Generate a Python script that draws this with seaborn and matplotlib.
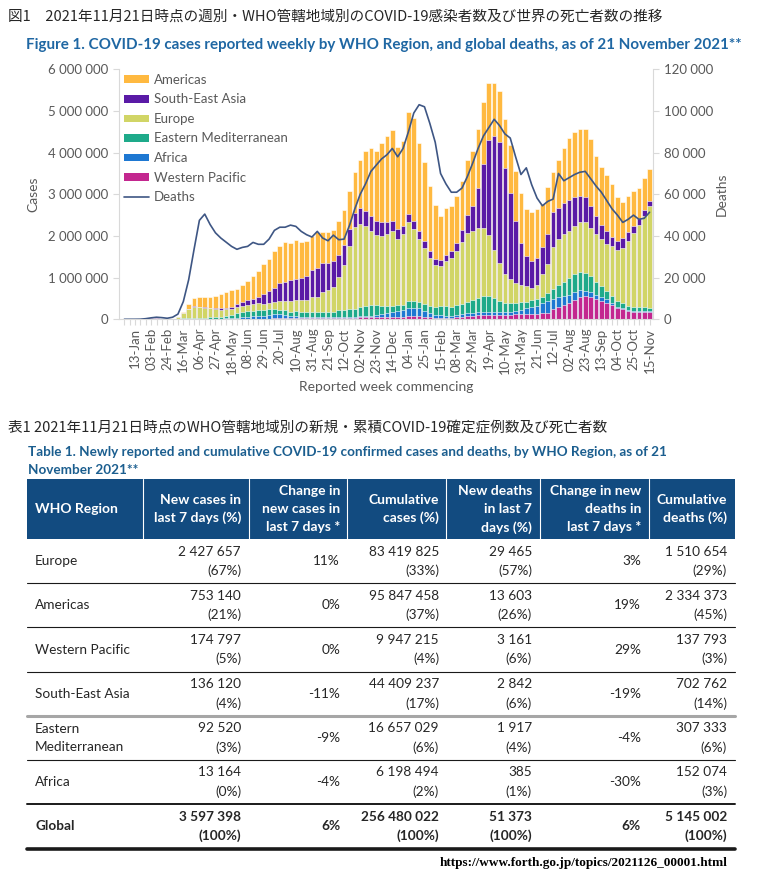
import numpy as np
import pandas as pd
import matplotlib
matplotlib.use("Agg")
import matplotlib.pyplot as plt
from matplotlib.patches import Patch, Rectangle
from matplotlib.lines import Line2D
from matplotlib.ticker import FuncFormatter
import seaborn as sns

W, H = 763, 877

# weekly new cases by WHO region (thousands), weeks commencing 30-Dec-2019 .. 15-Nov-2021
western_pacific = [
    0, 0, 0.3, 2, 12, 22, 30, 8, 4, 4,
    8, 10, 12, 12, 11, 9, 7, 7, 6, 6, 7,
    8, 8, 9, 9, 10, 10, 15, 20, 25, 30,
    35, 35, 30, 28, 25, 25, 25, 25, 25, 25, 25, 25, 25,
    50, 50, 50, 50, 50, 50, 50, 60, 60, 80, 80, 80, 60,
    50, 40, 40, 40, 40, 60, 60, 70,
    90, 100, 100, 100, 100, 100, 100, 100, 120, 130, 130, 130, 130, 140, 160, 240,
    300, 340, 380, 470, 540, 560, 530, 490, 450, 400, 340, 260, 240, 210, 180, 180, 175, 175,
]
africa = [
    0, 0, 0, 0, 0, 0, 0, 0, 0, 0,
    0.2, 1, 3, 5, 6, 7, 8, 10, 13, 17, 24,
    35, 45, 50, 65, 70, 75, 85, 100, 95, 70,
    50, 40, 35, 32, 30, 28, 28, 28, 28, 30, 30, 32, 35,
    40, 40, 40, 50, 70, 90, 120, 150, 160, 190, 180, 180, 150,
    100, 75, 60, 50, 50, 50, 60, 70,
    70, 70, 80, 80, 80, 80, 70, 80, 80, 90, 130, 160, 200, 240, 280, 250,
    230, 210, 200, 180, 160, 130, 120, 100, 90, 80, 60, 40, 25, 18, 16, 15, 14, 13,
]
eastern_med = [
    0, 0, 0, 0, 0, 0, 0, 0, 0.5, 5,
    8, 13, 20, 22, 24, 26, 30, 38, 46, 58, 78,
    120, 125, 140, 130, 135, 135, 140, 120, 100, 120,
    100, 120, 115, 120, 120, 120, 125, 130, 130, 160, 170, 190, 190,
    200, 230, 250, 240, 200, 180, 150, 130, 120, 180, 190, 160, 160,
    160, 190, 210, 220, 210, 240, 250, 280,
    300, 350, 380, 370, 320, 270, 230, 200, 180, 190, 160, 170, 160, 160, 190, 240,
    290, 350, 420, 440, 440, 430, 380, 300, 250, 210, 150, 140, 120, 100, 100, 100, 102, 93,
]
europe = [
    0, 0, 0, 0, 0, 0.1, 0.1, 0.2, 1, 8,
    38, 118, 220, 265, 245, 235, 215, 190, 170, 155, 140,
    130, 140, 140, 165, 175, 150, 160, 180, 220, 220,
    260, 260, 290, 290, 350, 370, 470, 510, 590, 790, 1090, 1510, 1960,
    2000, 1910, 1780, 1690, 1690, 1720, 1810, 1590, 1710, 1880, 1720, 1510, 1340,
    1170, 990, 980, 1090, 1170, 1290, 1490, 1650,
    1670, 1670, 1630, 1480, 1170, 910, 690, 590, 500, 420, 370, 290, 330, 550, 700, 1000,
    1100, 1140, 1120, 1140, 1190, 1220, 1170, 1150, 1140, 1120, 1200, 1230, 1330, 1560, 1780, 1980, 2190, 2428,
]
south_east_asia = [
    0, 0, 0, 0, 0, 0, 0, 0, 0, 0.1,
    0.3, 1, 3, 5, 8, 10, 13, 18, 28, 42, 56,
    75, 100, 120, 125, 150, 240, 270, 330, 430, 450,
    490, 520, 530, 570, 670, 690, 710, 660, 620, 550, 460, 400, 330,
    380, 360, 350, 340, 320, 290, 240, 240, 200, 200, 200, 180, 180,
    160, 160, 140, 140, 160, 200, 280, 440,
    580, 960, 1540, 2270, 2730, 2890, 2540, 2050, 1490, 1010, 720, 650, 640, 640, 720, 840,
    740, 760, 740, 710, 630, 600, 530, 440, 340, 310, 220, 210, 240, 200, 170, 150, 153, 136,
]
americas = [
    0, 0, 0, 0, 0, 0, 0, 0, 0.1, 0.5,
    4, 27, 102, 191, 246, 253, 267, 297, 337, 382, 395,
    350, 410, 450, 540, 610, 710, 780, 880, 900, 960,
    900, 930, 860, 850, 800, 860, 740, 740, 760, 800, 840, 915, 1000,
    1150, 1460, 1630, 1680, 1890, 2070, 2170, 1970, 2030, 2440, 2470, 2130, 1880,
    1560, 1290, 1060, 1120, 1100, 1120, 1190, 1310,
    1340, 1410, 1490, 1380, 1280, 1230, 1180, 1170, 1180, 1190, 1140, 1170, 1180, 1040, 1120, 960,
    1160, 1310, 1480, 1550, 1610, 1630, 1600, 1450, 1390, 1350, 1270, 1050, 855, 880, 824, 725, 753, 753,
]
# global deaths per week (thousands)
deaths = [
    0, 0, 0.01, 0.05, 0.3, 0.7, 1.0, 0.8, 0.5, 1.0,
    2.5, 8.5, 19, 33.5, 47.5, 50.5, 45.5, 41.5, 39, 37, 35,
    33.6, 34.5, 35, 36.9, 36, 36, 38.5, 42.7, 44.2, 44.2,
    45.2, 44.6, 42.2, 40.6, 39.5, 42.2, 39, 37.7, 40.4, 38.2, 38.5, 45, 53,
    60, 65, 71, 74, 77, 79, 82, 78, 82, 90, 99, 103, 102,
    94, 85, 70, 65, 61, 61, 63, 68.5,
    75, 82, 88, 92, 96, 93, 89, 87, 78, 69.5, 72.7, 64.6, 58.2, 54.5, 56.6, 57.7,
    70, 66.5, 68, 69.5, 70.6, 71, 67.5, 64, 61, 57, 53, 50, 46.5, 48, 50, 48, 48.5, 51.4,
]

tick_labels = ["13-Jan", "03-Feb", "24-Feb", "16-Mar", "06-Apr", "27-Apr", "18-May",
               "08-Jun", "29-Jun", "20-Jul", "10-Aug", "31-Aug", "21-Sep", "12-Oct",
               "02-Nov", "23-Nov", "14-Dec", "04-Jan", "25-Jan", "15-Feb", "08-Mar",
               "29-Mar", "19-Apr", "10-May", "31-May", "21-Jun", "12-Jul", "02-Aug",
               "23-Aug", "13-Sep", "04-Oct", "25-Oct", "15-Nov"]

# table 1
t_regions = ["Europe", "Americas", "Western Pacific", "South-East Asia",
             "Eastern\nMediterranean", "Africa", "Global"]
t_new_cases = [2427657, 753140, 174797, 136120, 92520, 13164, 3597398]
t_new_cases_pct = [67, 21, 5, 4, 3, 0, 100]
t_change_cases = [11, 0, 0, -11, -9, -4, 6]
t_cum_cases = [83419825, 95847458, 9947215, 44409237, 16657029, 6198494, 256480022]
t_cum_cases_pct = [33, 37, 4, 17, 6, 2, 100]
t_new_deaths = [29465, 13603, 3161, 2842, 1917, 385, 51373]
t_new_deaths_pct = [57, 26, 6, 6, 4, 1, 100]
t_change_deaths = [3, 19, 29, -19, -4, -30, 6]
t_cum_deaths = [1510654, 2334373, 137793, 702762, 307333, 152074, 5145002]
t_cum_deaths_pct = [29, 45, 3, 14, 6, 3, 100]
t_headers = ["WHO Region", "New cases in\nlast 7 days (%)", "Change in\nnew cases in\nlast 7 days *",
             "Cumulative\ncases (%)", "New deaths\nin last 7\ndays (%)",
             "Change in new\ndeaths in\nlast 7 days *", "Cumulative\ndeaths (%)"]

COLORS = {
    "Americas": "#FFB940",
    "South-East Asia": "#5A1AA6",
    "Europe": "#D1D566",
    "Eastern Mediterranean": "#1EAA8A",
    "Africa": "#1E78D2",
    "Western Pacific": "#C3278F",
}
DEATH_COLOR = "#3E5684"
GREY_TXT = "#595959"
AXIS_GREY = "#D9D9D9"
TITLE_BLUE = "#1F67A3"
HEAD_BLUE = "#124B80"

sns.set_theme(style="white")
plt.rcParams["font.family"] = ["Lato", "Noto Sans CJK JP", "DejaVu Sans"]

df = pd.DataFrame({
    "Western Pacific": western_pacific,
    "Africa": africa,
    "Eastern Mediterranean": eastern_med,
    "Europe": europe,
    "South-East Asia": south_east_asia,
    "Americas": americas,
}) * 1000
stack_order = list(df.columns)
cum = df[stack_order].cumsum(axis=1)
weeks = np.arange(len(df))

fig = plt.figure(figsize=(W / 100, H / 100), dpi=100)

# page layer in pixel coordinates for titles and the table
page = fig.add_axes([0, 0, 1, 1])
page.set_xlim(0, W)
page.set_ylim(H, 0)
page.axis("off")

jp = ["Noto Sans CJK JP", "DejaVu Sans"]
page.text(8, 17, "図1　2021年11月21日時点の週別・WHO管轄地域別のCOVID-19感染者数及び世界の死亡者数の推移",
          family=jp, fontsize=10.5, color="#262626", ha="left", va="center")
page.text(384, 45.5, "Figure 1. COVID-19 cases reported weekly by WHO Region, and global deaths, as of 21 November 2021**",
          fontsize=10.9, fontweight="bold", color=TITLE_BLUE, ha="center", va="center")

# ---- chart ----
ax = fig.add_axes([119 / W, 1 - 319.3 / H, 533.8 / W, 250 / H])
ax.set_facecolor("none")
for region in reversed(stack_order):
    sns.barplot(x=weeks, y=cum[region].values, color=COLORS[region], saturation=1,
                width=0.86, edgecolor="white", linewidth=0.4, ax=ax)

ax.set_xlim(-1.0, 98.6)
ax.set_ylim(0, 6_000_000)
ax.set_yticks(np.arange(0, 6_000_001, 1_000_000))
ax.yaxis.set_major_formatter(FuncFormatter(lambda v, p: f"{int(v):,}".replace(",", " ")))
labels = [""] * len(weeks)
for k, lab in enumerate(tick_labels):
    labels[2 + 3 * k] = lab
ax.set_xticks(weeks)
ax.set_xticklabels(labels, rotation=90)
ax.tick_params(axis="x", bottom=True, length=4, width=0.8, color=AXIS_GREY,
               labelsize=9.5, labelcolor=GREY_TXT, pad=2)
ax.tick_params(axis="y", left=True, length=4, width=0.8, color=AXIS_GREY,
               labelsize=9.5, labelcolor=GREY_TXT, pad=4)
for s in ["top", "right"]:
    ax.spines[s].set_visible(False)
for s in ["left", "bottom"]:
    ax.spines[s].set_color(AXIS_GREY)
    ax.spines[s].set_linewidth(0.8)
ax.set_xlabel("Reported week commencing", fontsize=10, color=GREY_TXT, labelpad=5)
ax.set_ylabel("Cases", fontsize=10, color=GREY_TXT, labelpad=6)

ax2 = ax.twinx()
sns.lineplot(x=weeks, y=np.array(deaths) * 1000, color=DEATH_COLOR, linewidth=1.2, ax=ax2)
ax2.set_ylim(0, 120_000)
ax2.set_yticks(np.arange(0, 120_001, 20_000))
ax2.yaxis.set_major_formatter(FuncFormatter(lambda v, p: f"{int(v):,}".replace(",", " ")))
ax2.tick_params(axis="y", right=True, length=4, width=0.8, color=AXIS_GREY,
                labelsize=9.5, labelcolor=GREY_TXT, pad=4)
for s in ["top", "left", "bottom"]:
    ax2.spines[s].set_visible(False)
ax2.spines["right"].set_color(AXIS_GREY)
ax2.spines["right"].set_linewidth(0.8)
ax2.set_ylabel("Deaths", fontsize=10, color=GREY_TXT, labelpad=2)

legend_order = ["Americas", "South-East Asia", "Europe", "Eastern Mediterranean", "Africa", "Western Pacific"]
handles = [Patch(facecolor=COLORS[r], edgecolor="none", label=r) for r in legend_order]
handles.append(Line2D([], [], color=DEATH_COLOR, lw=1.2, label="Deaths"))
ax2.legend(handles=handles, loc="upper left", bbox_to_anchor=(0.0, 1.0), frameon=False,
           fontsize=9.5, labelcolor=GREY_TXT, handlelength=1.95, handleheight=0.5,
           handletextpad=0.35, labelspacing=0.57, borderaxespad=0.3, borderpad=0.05)

# ---- table ----
page.text(8, 428, "表1 2021年11月21日時点のWHO管轄地域別の新規・累積COVID-19確定症例数及び死亡者数",
          family=jp, fontsize=10.5, color="#262626", ha="left", va="center")
page.text(28, 452, "Table 1. Newly reported and cumulative COVID-19 confirmed cases and deaths, by WHO Region, as of 21",
          fontsize=9.75, fontweight="bold", color="#1B5E8F", ha="left", va="center")
page.text(28, 470, "November 2021**", fontsize=9.75, fontweight="bold", color="#1B5E8F",
          ha="left", va="center")

col_edges = [27, 143, 249, 347, 446, 540, 649, 735]
row_edges = [479, 539, 583, 627, 672, 716, 760, 804, 849]
text_right = [35, 241, 340, 439, 532, 641, 727]


def put_lines(x, yc, lines, ha, step, **kw):
    n = len(lines)
    for k, s in enumerate(lines):
        page.text(x, yc + (k - (n - 1) / 2) * step, s, ha=ha, va="center", **kw)


def fmt(n):
    return f"{n:,}".replace(",", " ")


page.add_patch(Rectangle((col_edges[0], row_edges[0]), col_edges[-1] - col_edges[0],
                         row_edges[1] - row_edges[0], facecolor=HEAD_BLUE, edgecolor="none"))
for x in col_edges[1:-1]:
    page.plot([x, x], [row_edges[0], row_edges[1]], color="white", lw=0.8)
head_yc = (row_edges[0] + row_edges[1]) / 2
for c, head in enumerate(t_headers):
    put_lines(text_right[c], head_yc, head.split("\n"), "left" if c == 0 else "right", 18.3,
              fontsize=10, fontweight="bold", color="white")

for r, region in enumerate(t_regions):
    top, bot = row_edges[r + 1], row_edges[r + 2]
    yc = (top + bot) / 2
    kw = dict(fontsize=9.8, color="#262626", fontweight="bold" if region == "Global" else "normal")
    put_lines(text_right[0], yc, region.split("\n"), "left", 18, **kw)
    pairs = [(t_new_cases, t_new_cases_pct), (t_cum_cases, t_cum_cases_pct),
             (t_new_deaths, t_new_deaths_pct), (t_cum_deaths, t_cum_deaths_pct)]
    for c, (vals, pcts) in zip([1, 3, 4, 6], pairs):
        put_lines(text_right[c], yc, [fmt(vals[r]), f"({pcts[r]}%)"], "right", 19, **kw)
    page.text(text_right[2], yc, f"{t_change_cases[r]}%", ha="right", va="center", **kw)
    page.text(text_right[5], yc, f"{t_change_deaths[r]}%", ha="right", va="center", **kw)

for y in [583, 627, 672, 760]:
    page.plot([col_edges[0], col_edges[-1]], [y, y], color="#1A1A1A", lw=0.8)
page.plot([col_edges[0], col_edges[-1]], [716, 716], color="#A6A6A6", lw=2.2)
page.plot([col_edges[0], col_edges[-1]], [804, 804], color="#1A1A1A", lw=1.4)
page.plot([col_edges[0], col_edges[-1]], [849, 849], color="#1A1A1A", lw=2.6)

page.text(728, 863, "https://www.forth.go.jp/topics/2021126_00001.html",
          family=["Liberation Serif"], fontweight="bold", fontsize=9.5, color="black",
          ha="right", va="center")

fig.savefig("out.png", dpi=100)
